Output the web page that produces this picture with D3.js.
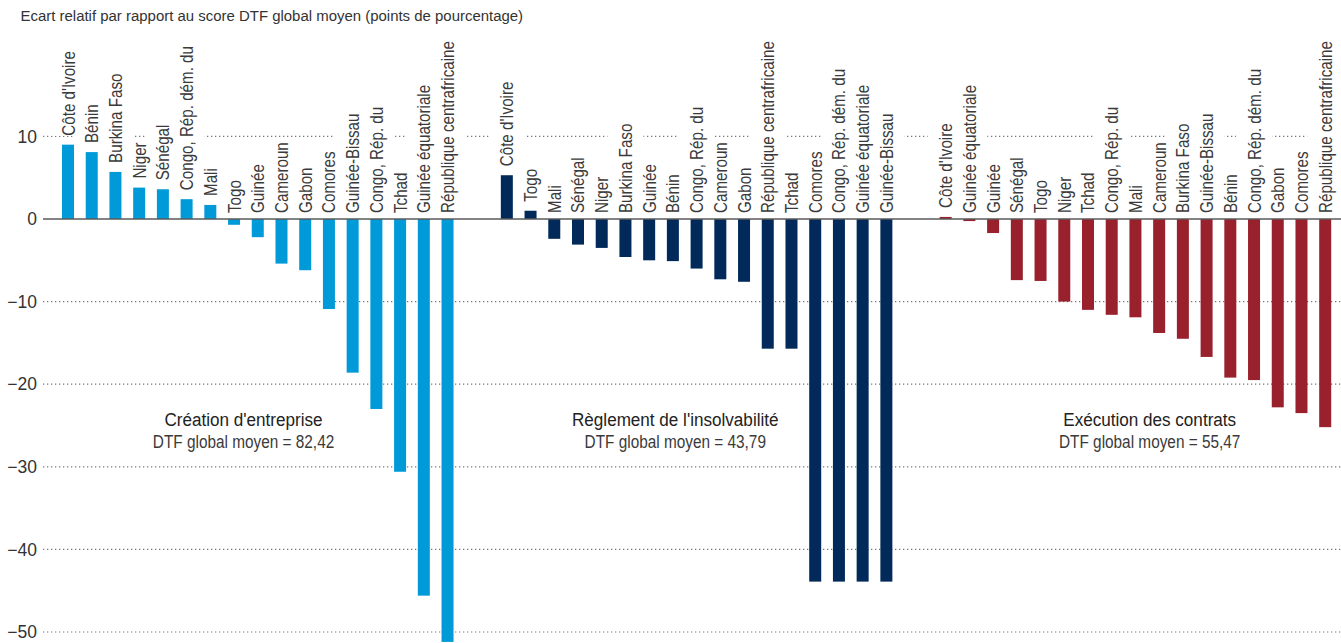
<!DOCTYPE html>
<html>
<head>
<meta charset="utf-8">
<script src="https://cdn.jsdelivr.net/npm/d3@7"></script>
<style>
  body { margin: 0; background: #fff; }
  svg { display: block; }
  text { font-family: "Liberation Sans", Arial, sans-serif; }
</style>
</head>
<body>
<div id="chart"></div>
<script>
// --- data ---
const creationCountries = ["Côte d'Ivoire", "Bénin", "Burkina Faso", "Niger", "Sénégal", "Congo, Rép. dém. du", "Mali",
  "Togo", "Guinée", "Cameroun", "Gabon", "Comores", "Guinée-Bissau", "Congo, Rép. du", "Tchad",
  "Guinée équatoriale", "République centrafricaine"];
const creationValues = [9.0, 8.1, 5.7, 3.8, 3.6, 2.4, 1.7, -0.7, -2.2, -5.4, -6.2, -10.9, -18.6, -23.0, -30.6, -45.6, -51.2];

const insolvCountries = ["Côte d'Ivoire", "Togo", "Mali", "Sénégal", "Niger", "Burkina Faso", "Guinée", "Bénin",
  "Congo, Rép. du", "Cameroun", "Gabon", "République centrafricaine", "Tchad", "Comores",
  "Congo, Rép. dém. du", "Guinée équatoriale", "Guinée-Bissau"];
const insolvValues = [5.3, 1.0, -2.4, -3.1, -3.5, -4.6, -5.0, -5.1, -6.0, -7.3, -7.6, -15.7, -15.7, -43.9, -43.9, -43.9, -43.9];

const contratsCountries = ["Côte d'Ivoire", "Guinée équatoriale", "Guinée", "Sénégal", "Togo", "Niger", "Tchad",
  "Congo, Rép. du", "Mali", "Cameroun", "Burkina Faso", "Guinée-Bissau", "Bénin", "Congo, Rép. dém. du",
  "Gabon", "Comores", "République centrafricaine"];
const contratsValues = [0.25, -0.25, -1.7, -7.4, -7.5, -10.0, -11.0, -11.6, -11.9, -13.8, -14.5, -16.7, -19.2, -19.5, -22.8, -23.5, -25.2];

const groupTitles = ["Création d'entreprise", "Règlement de l'insolvabilité", "Exécution des contrats"];
const groupMeans = ["82,42", "43,79", "55,47"];
const groupColors = ["#009ad8", "#012a5b", "#99212d"];
const yTicks = [10, 0, -10, -20, -30, -40, -50];
const axisTitle = "Ecart relatif par rapport au score DTF global moyen (points de pourcentage)";

// --- layout ---
const W = 1341, H = 643;
const groupStart = [0, 18.5, 37];      // slot offset of each group
const titleSlot = [7.4, 25.6, 45.6];   // where the group captions sit
const narrow = 0.82;                   // squeeze to mimic the condensed face

const groups = [
  { countries: creationCountries, values: creationValues },
  { countries: insolvCountries, values: insolvValues },
  { countries: contratsCountries, values: contratsValues }
];
const bars = [];
groups.forEach((g, gi) => {
  g.countries.forEach((c, i) => bars.push({ group: gi, country: c, value: g.values[i], slot: groupStart[gi] + i }));
});

const x = d3.scaleLinear().domain([0, 53]).range([62, 1319.2]);
const y = d3.scaleLinear().domain([-50, 10]).range([632, 136.4]);
const barW = 12;

const svg = d3.select("#chart").append("svg")
  .attr("width", W)
  .attr("height", H);

// axis title
svg.append("text")
  .attr("transform", "translate(20.5,21) scale(0.965,1)")
  .attr("font-size", 15.5)
  .attr("fill", "#333")
  .text(axisTitle);

// dotted gridlines
svg.append("g")
  .selectAll("line")
  .data(yTicks.filter(d => d !== 0))
  .join("line")
  .attr("x1", 43)
  .attr("x2", W)
  .attr("y1", d => y(d))
  .attr("y2", d => y(d))
  .attr("stroke", "#777")
  .attr("stroke-width", 1.2)
  .attr("stroke-dasharray", "1.3 2.7");

// y axis labels
const yAxis = d3.axisLeft(y).tickValues(yTicks).tickSize(0).tickPadding(6);
const ax = svg.append("g")
  .attr("transform", "translate(43,0)")
  .call(yAxis);
ax.select(".domain").remove();
ax.selectAll("text")
  .attr("font-size", 17.5)
  .attr("fill", "#333")
  .style("font-family", "'Liberation Sans', Arial, sans-serif");

// country labels (with white backing so the gridline breaks behind them)
const labelBase = d => d.value > 0 ? y(d.value) - 9 : y(0) - 6;
const cx = d => x(d.slot) + barW / 2;

const bgLayer = svg.append("g");
const barLayer = svg.append("g");
const zeroLayer = svg.append("g");
const labelLayer = svg.append("g");

const labels = labelLayer.selectAll("text")
  .data(bars)
  .join("text")
  .attr("transform", d => `translate(${cx(d) + 6.5},${labelBase(d)}) rotate(-90) scale(${narrow},1)`)
  .attr("font-size", 18.5)
  .attr("fill", "#3a3a3a")
  .text(d => d.country);

labels.each(function(d) { d.len = this.getComputedTextLength() * narrow; });

bgLayer.selectAll("rect")
  .data(bars)
  .join("rect")
  .attr("x", d => cx(d) - 18)
  .attr("y", d => labelBase(d) - d.len - 4)
  .attr("width", 36)
  .attr("height", d => d.len + 4)
  .attr("fill", "#fff");

// bars
barLayer.selectAll("rect")
  .data(bars)
  .join("rect")
  .attr("x", d => x(d.slot))
  .attr("width", barW)
  .attr("y", d => y(Math.max(0, d.value)))
  .attr("height", d => Math.abs(y(d.value) - y(0)))
  .attr("fill", d => groupColors[d.group]);

// zero line
zeroLayer.append("line")
  .attr("x1", 43)
  .attr("x2", W)
  .attr("y1", y(0))
  .attr("y2", y(0))
  .attr("stroke", "#5a5a5a")
  .attr("stroke-width", 1.6);

// group captions
const caps = svg.append("g")
  .selectAll("g")
  .data(groupTitles)
  .join("g")
  .attr("transform", (d, i) => `translate(${x(titleSlot[i]) + barW / 2},${y(-25)})`);

caps.append("text")
  .attr("text-anchor", "middle")
  .attr("transform", "scale(0.9,1)")
  .attr("font-size", 19)
  .attr("fill", "#222")
  .text(d => d);

caps.append("text")
  .attr("text-anchor", "middle")
  .attr("transform", "translate(0,22) scale(0.83,1)")
  .attr("font-size", 18.5)
  .attr("fill", "#3a3a3a")
  .text((d, i) => `DTF global moyen = ${groupMeans[i]}`);
</script>
</body>
</html>
